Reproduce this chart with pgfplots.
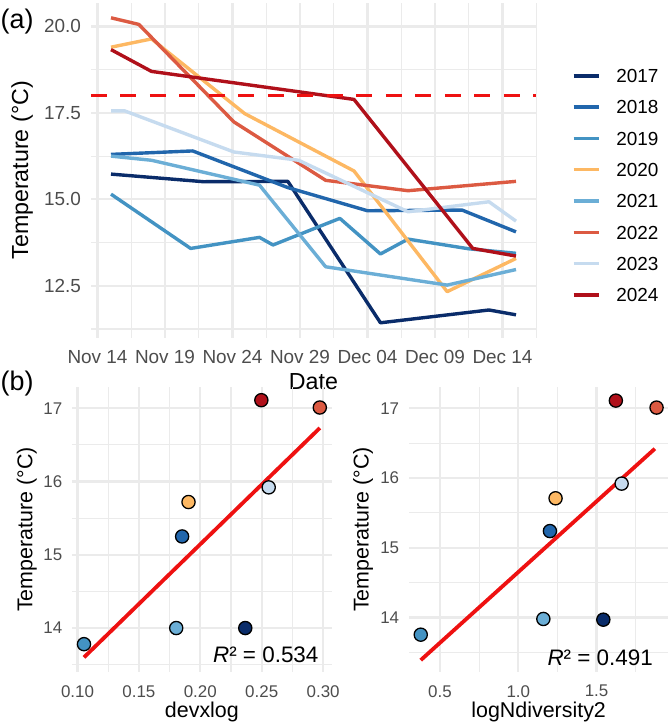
\documentclass[border=0pt]{standalone}
\usepackage{fontspec}
\setmainfont{Liberation Sans}
\usepackage{pgfplots}
\pgfplotsset{compat=1.18}
\definecolor{gridc}{HTML}{EBEBEB}
\definecolor{tickc}{HTML}{4D4D4D}
\definecolor{cA}{HTML}{0A2C6A}
\definecolor{cB}{HTML}{2166AC}
\definecolor{cC}{HTML}{4393C3}
\definecolor{cD}{HTML}{FDB863}
\definecolor{cE}{HTML}{6BAED6}
\definecolor{cF}{HTML}{DC5A42}
\definecolor{cG}{HTML}{C6DBEF}
\definecolor{cH}{HTML}{B0101A}
\definecolor{rl}{HTML}{EE1111}
\pgfplotsset{gg/.style={scale only axis,
  axis line style={draw=none},
  major tick length=0pt, minor tick length=0pt,
  grid=both,
  major grid style={draw=gridc, line width=2.2bp},
  minor grid style={draw=gridc, line width=1.1bp},
  ticklabel style={font=\fontsize{17}{17}\selectfont, text=tickc, inner sep=0pt},
  xticklabel style={anchor=north, yshift=-13bp},
  yticklabel style={anchor=east, xshift=-9.7bp},
  label style={font=\fontsize{21.5}{21.5}\selectfont},
  /pgf/number format/assume math mode=true},
  pt/.style={only marks, mark=*, mark size=6.6bp, mark options={draw=black, line width=1.3bp, fill=#1}}
}
\begin{document}
\begin{tikzpicture}
\useasboundingbox (0,0) rectangle (669bp,726bp);
\begin{axis}[gg, at={(90.75bp,388bp)}, anchor=south west,
  width=445.5bp, height=335.4bp,
  xmin=-0.5, xmax=32.5, ymin=10.99, ymax=20.69,
  ticklabel style={font=\fontsize{19}{19}\selectfont},
  xticklabel style={yshift=1bp},
  label style={font=\fontsize{23.3}{23.3}\selectfont},
  xtick={0,5,10,15,20,25,30},
  xticklabels={Nov 14,Nov 19,Nov 24,Nov 29,Dec 04,Dec 09,Dec 14},
  minor xtick={2.5,7.5,12.5,17.5,22.5,27.5,32.5},
  ytick={12.5,15,17.5,20}, yticklabels={12.5,15.0,17.5,20.0},
  minor ytick={11.25,13.75,16.25,18.75},
  xlabel={Date}, ylabel={Temperature (°C)},
  xlabel style={at={(axis description cs:0.5,-0.131)}, anchor=center},
  ylabel style={at={(axis description cs:-0.154,0.5)}, anchor=center},
  legend cell align=left,
  legend style={draw=none, fill=none, inner sep=0pt, outer sep=0pt,
    at={(axis description cs:1.0802,0.8014)}, anchor=north west,
    font=\fontsize{19}{19}\selectfont, row sep=18.1bp, column sep=16bp,
    nodes={inner sep=0pt, text depth=0pt}},
  legend image code/.code={\draw[#1, line width=3.4bp] (0bp,0bp) -- (25bp,0bp);},
  every axis plot/.append style={line width=3.4bp, line join=round}
]
\addplot[cA] coordinates {(1,15.73) (7.85,15.51) (14.1,15.52) (20.96,11.43) (29,11.8) (31,11.66)};
\addlegendentry{2017}
\addplot[cB] coordinates {(1,16.30) (7.05,16.40) (14.1,15.34) (20,14.67) (27,14.69) (31,14.06)};
\addlegendentry{2018}
\addplot[cC] coordinates {(1,15.15) (6.9,13.58) (12,13.90) (13,13.68) (17.95,14.45) (20.96,13.42) (23,13.85) (27.5,13.57) (31,13.44)};
\addlegendentry{2019}
\addplot[cD] coordinates {(1,19.40) (4,19.64) (10.9,17.48) (19,15.82) (25.9,12.33) (31,13.29)};
\addlegendentry{2020}
\addplot[cE] coordinates {(1,16.25) (4,16.13) (12,15.41) (16.9,13.05) (25.9,12.52) (31,12.97)};
\addlegendentry{2021}
\addplot[cF] coordinates {(1,20.25) (3.06,20.06) (10.1,17.24) (16.9,15.55) (23,15.25) (31,15.52)};
\addlegendentry{2022}
\addplot[cG] coordinates {(1,17.56) (2,17.56) (10.1,16.37) (14.9,16.13) (23,14.64) (29,14.93) (31,14.37)};
\addlegendentry{2023}
\addplot[cH] coordinates {(1,19.33) (4,18.70) (19,17.89) (27.8,13.58) (31,13.36)};
\addlegendentry{2024}
\addplot[rl, line width=3.6bp, dash pattern=on 16bp off 13.5bp, forget plot] coordinates {(-0.5,18) (32.5,18)};
\node[anchor=west, inner sep=0pt, font=\fontsize{23.3}{23.3}\selectfont] at (axis description cs:1.0758,0.8945) {Year};
\end{axis}

\begin{axis}[gg, at={(72.2bp,54bp)}, anchor=south west,
  width=259.4bp, height=285bp,
  xmin=0.0957, xmax=0.3069, ymin=13.40, ymax=17.29,
  xtick={0.10,0.15,0.20,0.25,0.30}, xticklabels={0.10,0.15,0.20,0.25,0.30},
  minor xtick={0.125,0.175,0.225,0.275},
  ytick={14,15,16,17}, yticklabels={14,15,16,17},
  minor ytick={13.5,14.5,15.5,16.5},
  xlabel={devxlog}, ylabel={Temperature (°C)},
  xlabel style={at={(axis description cs:0.5,-0.139)}, anchor=center},
  ylabel style={at={(axis description cs:-0.175,0.5)}, anchor=center},
  clip=false
]
\addplot[rl, line width=3.8bp] coordinates {(0.1053,13.60) (0.2973,16.73)};
\addplot[pt=cC] coordinates {(0.1053,13.78)};
\addplot[pt=cE] coordinates {(0.1804,14.00)};
\addplot[pt=cB] coordinates {(0.1852,15.25)};
\addplot[pt=cD] coordinates {(0.1904,15.72)};
\addplot[pt=cA] coordinates {(0.2366,14.00)};
\addplot[pt=cH] coordinates {(0.2497,17.11)};
\addplot[pt=cG] coordinates {(0.2557,15.92)};
\addplot[pt=cF] coordinates {(0.2973,17.01)};
\node[anchor=east, inner sep=0pt, font=\fontsize{22.5}{22.5}\selectfont] at (axis description cs:0.950,0.0596) {\itshape R\upshape ² = 0.534};
\end{axis}

\begin{axis}[gg, at={(409bp,54bp)}, anchor=south west,
  width=259.3bp, height=285bp,
  xmin=0.302, xmax=1.958, ymin=13.22, ymax=17.305,
  xtick={0.5,1.0,1.5}, xticklabels={0.5,1.0,1.5},
  minor xtick={0.75,1.25,1.75},
  ytick={14,15,16,17}, yticklabels={14,15,16,17},
  minor ytick={13.5,14.5,15.5,16.5},
  xlabel={logNdiversity2}, ylabel={Temperature (°C)},
  xlabel style={at={(axis description cs:0.5,-0.139)}, anchor=center},
  ylabel style={at={(axis description cs:-0.177,0.5)}, anchor=center},
  clip=false
]
\addplot[rl, line width=3.8bp] coordinates {(0.377,13.39) (1.872,16.42)};
\addplot[pt=cC] coordinates {(0.377,13.755)};
\addplot[pt=cE] coordinates {(1.16,13.98)};
\addplot[pt=cB] coordinates {(1.202,15.24)};
\addplot[pt=cD] coordinates {(1.238,15.71)};
\addplot[pt=cA] coordinates {(1.543,13.97)};
\addplot[pt=cH] coordinates {(1.623,17.11)};
\addplot[pt=cG] coordinates {(1.66,15.92)};
\addplot[pt=cF] coordinates {(1.883,17.01)};
\node[anchor=east, inner sep=0pt, font=\fontsize{22.5}{22.5}\selectfont] at (axis description cs:0.941,0.049) {\itshape R\upshape ² = 0.491};
\end{axis}

\node[anchor=west, inner sep=0pt, font=\fontsize{27}{27}\selectfont] at (0.5bp,704bp) {(a)};
\node[anchor=west, inner sep=0pt, font=\fontsize{27}{27}\selectfont] at (0.5bp,342bp) {(b)};
\end{tikzpicture}
\end{document}
